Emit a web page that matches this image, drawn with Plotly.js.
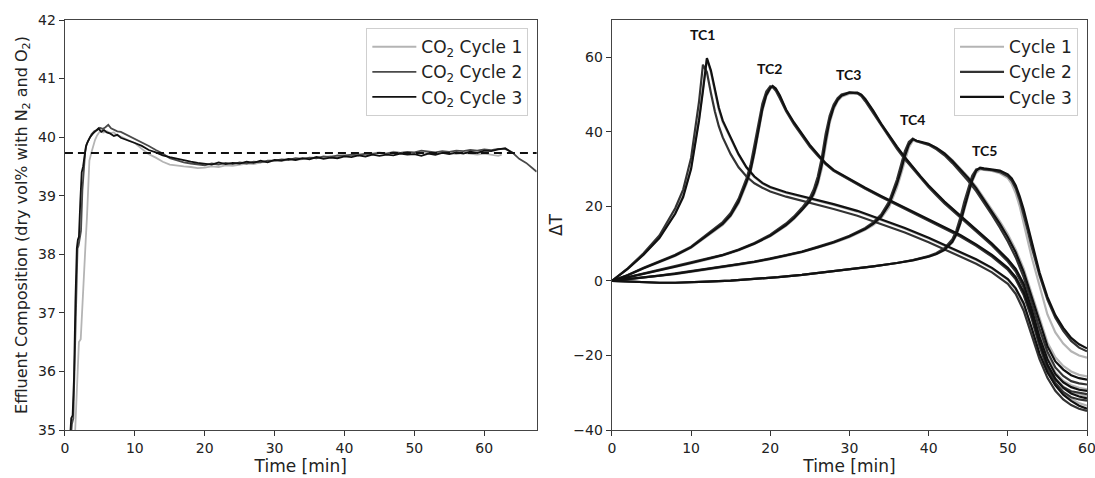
<!DOCTYPE html>
<html>
<head>
<meta charset="utf-8">
<script src="https://cdn.plot.ly/plotly-3.0.1.min.js"></script>
<style>html,body{margin:0;padding:0;background:#fff;}#chart{width:1095px;height:478px;}</style>
</head>
<body>
<div id="chart"></div>
<script>
// ---------------- Left panel: CO2 effluent composition ----------------
const leftSeriesNames = ['CO<sub>2</sub> Cycle 1', 'CO<sub>2</sub> Cycle 2', 'CO<sub>2</sub> Cycle 3'];
const refComposition = 39.73;

const tL1 = [1.4, 1.6, 1.8, 2.0, 2.26, 2.5, 2.8, 3.0, 3.16, 3.35, 3.5, 3.75, 4.0, 4.3, 4.6, 5.0, 5.5, 6.0, 6.5, 7.0, 7.5,
  8, 9, 10, 11, 12, 13, 14, 15, 16, 17, 18, 19, 20, 21, 22, 23, 24, 25, 26, 27, 28, 29, 30, 31, 32, 33, 34, 35,
  36, 37, 38, 39, 40, 41, 42, 43, 44, 45, 46, 47, 48, 49, 50, 51, 52, 53, 54, 55, 56, 57, 58, 59, 60, 61, 62, 62.5];
const vL1 = [34.8, 35.3, 35.8, 36.5, 36.55, 37.2, 37.8, 38.3, 38.65, 39.2, 39.6, 39.72, 39.84, 39.95, 40.03, 40.1, 40.08, 40.1, 40.07, 40.08, 40.03,
  40.01, 39.95, 39.9, 39.8, 39.71, 39.65, 39.58, 39.53, 39.51, 39.5, 39.49, 39.47, 39.48, 39.5, 39.49, 39.52, 39.51, 39.53, 39.55, 39.54, 39.57, 39.58, 39.6, 39.59, 39.62, 39.61, 39.63, 39.64,
  39.66, 39.65, 39.68, 39.67, 39.7, 39.69, 39.72, 39.71, 39.73, 39.74, 39.72, 39.75, 39.73, 39.74, 39.72, 39.74, 39.73, 39.72, 39.74, 39.72, 39.71, 39.73, 39.72, 39.7, 39.72, 39.7, 39.68, 39.7];

const tL2 = [0.8, 1.0, 1.2, 1.4, 1.6, 1.8, 1.95, 2.1, 2.3, 2.5, 2.7, 2.9, 3.1, 3.4, 3.8, 4.2, 4.6, 5.0, 5.4, 5.8, 6.2, 6.6, 7.0, 7.5,
  8, 9, 10, 11, 12, 13, 14, 15, 16, 17, 18, 19, 20, 21, 22, 23, 24, 25, 26, 27, 28, 29, 30, 31, 32, 33, 34, 35, 36, 37,
  38, 39, 40, 41, 42, 43, 44, 45, 46, 47, 48, 49, 50, 51, 52, 53, 54, 55, 56, 57, 58, 59, 60, 61, 62, 63, 64, 65, 66, 67, 67.5];
const vL2 = [34.8, 35.1, 35.2, 36.3, 37.5, 38.1, 38.15, 38.3, 38.4, 39.1, 39.5, 39.75, 39.88, 39.96, 40.05, 40.1, 40.12, 40.16, 40.14, 40.17, 40.21, 40.15, 40.13, 40.1,
  40.09, 40.03, 39.98, 39.92, 39.85, 39.78, 39.72, 39.64, 39.6, 39.57, 39.55, 39.53, 39.52, 39.55, 39.53, 39.56, 39.54, 39.57, 39.55, 39.58, 39.57, 39.6, 39.6, 39.62, 39.61, 39.64, 39.63, 39.65, 39.64, 39.67,
  39.66, 39.69, 39.68, 39.7, 39.69, 39.72, 39.71, 39.73, 39.72, 39.74, 39.73, 39.75, 39.74, 39.77, 39.75, 39.74, 39.76, 39.75, 39.77, 39.76, 39.78, 39.77, 39.79, 39.78, 39.8, 39.8, 39.74, 39.63, 39.56, 39.47, 39.41];

const tL3 = [0.7, 0.9, 1.1, 1.3, 1.5, 1.7, 1.85, 2.0, 2.2, 2.4, 2.6, 2.8, 3.0, 3.3, 3.6, 4.0, 4.4, 4.8, 5.2, 5.6, 6.0, 6.5, 7.0, 7.5,
  8, 9, 10, 11, 12, 13, 14, 15, 16, 17, 18, 19, 20, 21, 22, 23, 24, 25, 26, 27, 28, 29, 30, 31, 32, 33, 34, 35,
  36, 37, 38, 39, 40, 41, 42, 43, 44, 45, 46, 47, 48, 49, 50, 51, 52, 53, 54, 55, 56, 57, 58, 59, 60, 61, 62, 63, 63.5, 64];
const vL3 = [34.8, 35.2, 35.25, 35.9, 37.2, 38.1, 38.25, 38.3, 38.9, 39.4, 39.5, 39.72, 39.84, 39.93, 40.0, 40.06, 40.1, 40.15, 40.09, 40.12, 40.08, 40.06, 40.02, 40.04,
  39.99, 39.95, 39.9, 39.85, 39.78, 39.74, 39.69, 39.66, 39.63, 39.6, 39.58, 39.56, 39.55, 39.53, 39.57, 39.54, 39.56, 39.55, 39.58, 39.56, 39.6, 39.57, 39.61, 39.6, 39.63, 39.61, 39.64, 39.62,
  39.66, 39.63, 39.65, 39.64, 39.67, 39.66, 39.69, 39.67, 39.7, 39.68, 39.7, 39.69, 39.72, 39.7, 39.71, 39.68, 39.72, 39.7, 39.73, 39.71, 39.74, 39.72, 39.75, 39.73, 39.77, 39.76, 39.79, 39.81, 39.77, 39.73];

// ---------------- Right panel: thermocouple temperature rise ----------------
const rightSeriesNames = ['Cycle 1', 'Cycle 2', 'Cycle 3'];
const tcLabels = ['TC1', 'TC2', 'TC3', 'TC4', 'TC5'];

const tTC1 = [0, 2, 4, 6, 8, 9, 10, 10.5, 11, 11.5, 12, 12.5, 13, 13.5, 14, 15, 16, 17, 18, 19, 20, 22, 25, 28, 31, 34, 37, 40, 43, 46, 48, 50, 51, 52, 53, 54, 55, 56, 57, 58, 59, 60];
const tc1c1 = [0, 3.3, 7.1, 11.7, 18.3, 23.0, 30.5, 36.5, 43.5, 51.5, 59.5, 56.0, 50.5, 46.0, 42.6, 38.2, 33.8, 30.3, 27.8, 26.1, 25.0, 23.6, 22.1, 20.4, 18.6, 16.4, 14.0, 11.4, 8.6, 5.6, 3.3, 0.3, -2.3, -6.5, -13.0, -19.8, -24.6, -27.8, -30.0, -31.6, -32.8, -33.5];
const tc1c2 = [0, 3.4, 7.4, 12.2, 19.5, 24.5, 33.0, 40.0, 48.0, 58.0, 56.0, 50.5, 45.5, 41.5, 38.5, 34.0, 30.5, 28.0, 26.2, 25.0, 24.0, 22.6, 21.0, 19.3, 17.5, 15.3, 13.0, 10.4, 7.6, 4.6, 2.3, -0.8, -3.5, -8.0, -14.5, -21.0, -26.0, -29.5, -31.8, -33.3, -34.3, -34.9];
const tc1c3 = [0, 3.2, 7.0, 11.5, 18.0, 22.5, 30.0, 36.0, 43.0, 51.0, 59.8, 56.5, 51.0, 46.5, 43.0, 38.5, 34.0, 30.5, 28.0, 26.3, 25.2, 23.8, 22.3, 20.6, 18.8, 16.6, 14.2, 11.6, 8.8, 5.8, 3.5, 0.5, -2.0, -6.0, -12.5, -19.5, -24.5, -28.0, -30.5, -32.2, -33.5, -34.3];

const tTC2 = [0, 2, 4, 6, 8, 10, 12, 14, 15, 16, 17, 17.5, 18, 18.5, 19, 19.5, 20, 20.3, 20.7, 21.2, 22, 23, 24, 25, 26, 27, 28, 30, 32, 34, 36, 38, 40, 42, 44, 46, 48, 50, 51, 52, 53, 54, 55, 56, 57, 58, 59, 60];
const tc2c1 = [0, 1.5, 3.3, 5.0, 6.7, 8.9, 12.0, 15.0, 17.3, 20.8, 26.0, 29.0, 34.0, 40.0, 45.5, 49.5, 51.5, 52.0, 51.5, 49.6, 45.8, 42.3, 39.3, 36.3, 33.8, 31.4, 29.6, 27.1, 24.8, 22.6, 20.5, 18.4, 16.4, 14.4, 12.1, 9.6, 6.8, 3.2, 0.6, -3.5, -9.8, -17.0, -22.5, -26.0, -28.3, -29.8, -30.5, -31.0];
const tc2c2 = [0, 1.6, 3.5, 5.2, 7.0, 9.2, 12.5, 15.8, 18.2, 22.0, 27.5, 31.0, 36.5, 42.5, 47.5, 50.8, 52.2, 52.0, 51.0, 49.0, 45.5, 42.0, 39.0, 36.0, 33.6, 31.3, 29.5, 27.0, 24.7, 22.5, 20.4, 18.3, 16.3, 14.2, 11.9, 9.4, 6.5, 3.0, 0.4, -3.8, -10.0, -17.5, -23.5, -27.3, -29.8, -31.2, -31.8, -32.1];
const tc2c3 = [0, 1.5, 3.4, 5.1, 6.8, 9.0, 12.2, 15.3, 17.6, 21.2, 26.5, 29.5, 34.5, 40.5, 46.0, 49.8, 51.7, 52.3, 51.6, 49.8, 46.0, 42.5, 39.5, 36.5, 34.0, 31.6, 29.8, 27.3, 25.0, 22.8, 20.7, 18.6, 16.6, 14.6, 12.3, 9.8, 7.0, 3.5, 1.0, -3.0, -9.0, -16.5, -22.5, -26.3, -28.7, -30.2, -31.0, -31.5];

const tTC3 = [0, 2, 4, 6, 8, 10, 12, 14, 16, 18, 20, 22, 23, 24, 25, 25.5, 26, 26.5, 27, 27.5, 28, 28.5, 29, 30, 31, 31.5, 32, 33, 34, 35, 36, 37, 38, 39, 40, 41, 42, 44, 46, 48, 50, 51, 52, 53, 54, 55, 56, 57, 58, 59, 60];
const tc3c1 = [0, 0.9, 1.8, 2.8, 3.7, 4.7, 5.7, 6.8, 8.2, 9.9, 12.0, 14.8, 16.6, 18.8, 21.2, 23.0, 25.8, 30.0, 36.5, 42.3, 46.0, 48.2, 49.4, 50.2, 50.3, 49.9, 48.7, 45.6, 42.1, 38.9, 35.9, 33.1, 30.4, 27.9, 25.5, 23.3, 21.2, 17.4, 13.6, 9.9, 5.7, 3.1, -0.6, -7.0, -14.2, -20.2, -24.5, -26.8, -28.0, -28.7, -29.1];
const tc3c2 = [0, 1.0, 2.0, 3.0, 3.9, 4.9, 5.9, 7.0, 8.4, 10.2, 12.4, 15.4, 17.3, 19.6, 22.3, 24.6, 28.0, 33.0, 39.5, 44.3, 47.3, 49.0, 50.0, 50.6, 50.3, 49.6, 48.2, 45.0, 41.6, 38.4, 35.4, 32.6, 30.0, 27.5, 25.1, 22.9, 20.8, 17.0, 13.2, 9.5, 5.2, 2.5, -1.8, -8.8, -16.5, -22.5, -26.3, -28.5, -29.6, -30.1, -30.4];
const tc3c3 = [0, 0.9, 1.9, 2.9, 3.8, 4.8, 5.8, 6.9, 8.3, 10.0, 12.1, 15.0, 16.8, 19.0, 21.5, 23.5, 26.5, 31.0, 37.5, 43.0, 46.5, 48.5, 49.7, 50.5, 50.5, 50.0, 48.8, 45.7, 42.2, 39.0, 36.0, 33.2, 30.5, 28.0, 25.6, 23.4, 21.3, 17.5, 13.7, 10.0, 5.8, 3.2, -0.8, -7.5, -15.0, -21.0, -25.0, -27.2, -28.5, -29.2, -29.5];

const tTC4 = [0, 2, 4, 6, 8, 10, 12, 14, 16, 18, 20, 22, 24, 26, 28, 30, 32, 33, 34, 35, 35.5, 36, 36.5, 37, 37.5, 38, 38.5, 39, 40, 41, 42, 43, 44, 45, 46, 47, 48, 49, 50, 51, 52, 53, 54, 55, 56, 57, 58, 59, 60];
const tc4c1 = [0, 0.4, 0.8, 1.3, 1.8, 2.4, 3.0, 3.6, 4.3, 5.0, 5.8, 6.7, 7.7, 8.9, 10.2, 11.7, 13.7, 15.0, 16.8, 19.8, 22.2, 25.0, 28.5, 32.5, 35.8, 37.6, 37.4, 37.1, 36.7, 35.7, 34.3, 32.4, 30.2, 27.9, 25.3, 22.3, 19.2, 16.0, 12.5, 8.4, 3.3, -3.2, -10.3, -16.5, -20.5, -22.8, -24.3, -25.2, -25.6];
const tc4c2 = [0, 0.4, 0.9, 1.4, 2.0, 2.6, 3.2, 3.8, 4.5, 5.2, 6.0, 6.9, 7.9, 9.1, 10.5, 12.1, 14.2, 15.7, 17.8, 21.3, 24.0, 27.2, 31.0, 34.8, 37.3, 38.2, 37.5, 37.1, 36.5, 35.3, 33.7, 31.6, 29.3, 26.8, 24.1, 21.0, 17.7, 14.3, 10.6, 6.3, 1.0, -5.7, -12.8, -19.0, -23.2, -25.5, -26.9, -27.5, -27.8];
const tc4c3 = [0, 0.4, 0.9, 1.4, 1.9, 2.5, 3.1, 3.7, 4.4, 5.1, 5.9, 6.8, 7.8, 9.0, 10.3, 11.9, 13.9, 15.3, 17.2, 20.5, 23.0, 26.0, 29.5, 33.5, 36.5, 38.0, 37.6, 37.3, 36.8, 35.7, 34.2, 32.2, 30.0, 27.6, 24.9, 21.8, 18.6, 15.3, 11.7, 7.6, 2.4, -4.2, -11.3, -17.5, -21.6, -23.8, -25.3, -26.1, -26.5];

const tTC5 = [0, 2, 4, 6, 8, 10, 12, 15, 18, 21, 24, 27, 30, 33, 36, 38, 40, 41, 42, 43, 43.5, 44, 44.5, 45, 45.5, 46, 46.5, 47, 48, 49, 50, 50.5, 51, 51.5, 52, 52.5, 53, 53.5, 54, 55, 56, 57, 58, 59, 60];
const tc5c1 = [0, -0.2, -0.4, -0.5, -0.5, -0.4, -0.2, 0.1, 0.5, 1.0, 1.6, 2.3, 3.1, 3.9, 4.8, 5.5, 6.5, 7.2, 8.2, 10.3, 12.2, 15.2, 19.0, 23.0, 26.6, 29.0, 29.9, 29.8, 29.5, 28.9, 27.6, 26.0, 23.5, 20.0, 15.8, 11.0, 6.5, 2.5, -1.5, -9.0, -13.8, -16.8, -18.9, -20.0, -20.6];
const tc5c2 = [0, -0.2, -0.4, -0.5, -0.5, -0.4, -0.2, 0.1, 0.5, 1.0, 1.6, 2.3, 3.1, 3.9, 4.8, 5.6, 6.7, 7.5, 8.8, 11.2, 13.5, 17.0, 21.2, 25.0, 28.2, 29.9, 30.2, 29.9, 29.7, 29.2, 28.1, 26.9, 24.8, 21.7, 18.0, 13.6, 9.2, 5.2, 1.5, -5.0, -9.9, -13.4, -16.1, -17.9, -18.9];
const tc5c3 = [0, -0.2, -0.4, -0.5, -0.5, -0.4, -0.2, 0.1, 0.5, 1.0, 1.6, 2.3, 3.1, 3.9, 4.8, 5.5, 6.5, 7.2, 8.3, 10.5, 12.5, 15.5, 19.5, 23.5, 27.0, 29.5, 30.4, 30.2, 30.0, 29.6, 28.6, 27.5, 25.6, 22.7, 19.2, 14.8, 10.3, 6.2, 2.3, -4.3, -9.2, -12.6, -15.3, -17.0, -18.1];

// ---------------- styling (not data) ----------------
const cycleColors = ['#b4b4b4', '#4a4a4a', '#111111'];
const rightColors = ['#b4b4b4', '#333333', '#111111'];
const labelPos = {x: [11.5, 19.9, 29.9, 38.0, 47.0], y: [66, 57, 55.5, 43.3, 35.1]};
const FONT = 'DejaVu Sans, sans-serif';

const traces = [];
const leftT = [tL1, tL2, tL3];
const leftV = [vL1, vL2, vL3];
for (let c = 0; c < 3; c++) {
  traces.push({
    type: 'scatter', mode: 'lines', x: leftT[c], y: leftV[c], name: leftSeriesNames[c],
    xaxis: 'x', yaxis: 'y', legend: 'legend', legendgroup: 'l' + c,
    line: {color: cycleColors[c], width: 1.8}
  });
}

const tcTimes = [tTC1, tTC2, tTC3, tTC4, tTC5];
const tcVals = [
  [tc1c1, tc1c2, tc1c3],
  [tc2c1, tc2c2, tc2c3],
  [tc3c1, tc3c2, tc3c3],
  [tc4c1, tc4c2, tc4c3],
  [tc5c1, tc5c2, tc5c3]
];
for (let c = 0; c < 3; c++) {
  for (let k = 0; k < tcTimes.length; k++) {
    traces.push({
      type: 'scatter', mode: 'lines', x: tcTimes[k], y: tcVals[k][c], name: rightSeriesNames[c],
      xaxis: 'x2', yaxis: 'y2', legend: 'legend2', legendgroup: 'r' + c, showlegend: k === 0,
      line: {color: rightColors[c], width: 2.2}
    });
  }
}

const axisCommon = {
  showgrid: false, zeroline: false, showline: true, linecolor: '#444', linewidth: 1.2, mirror: true,
  ticks: 'outside', ticklen: 5, tickwidth: 1, tickcolor: '#333',
  tickfont: {family: FONT, size: 14, color: '#222'}
};

const annotations = tcLabels.map((t, i) => ({
  xref: 'x2', yref: 'y2', x: labelPos.x[i], y: labelPos.y[i], text: '<b>' + t + '</b>', showarrow: false,
  font: {family: 'Lato, Open Sans, sans-serif', size: 14, color: '#111'}
}));

const legendCommon = {
  xanchor: 'right', yanchor: 'top',
  bgcolor: 'rgba(255,255,255,0.9)', bordercolor: '#cfcfcf', borderwidth: 1,
  font: {family: FONT, size: 17, color: '#222'}, tracegroupgap: 0, itemwidth: 44
};

const layout = {
  width: 1095, height: 478,
  paper_bgcolor: '#fff', plot_bgcolor: '#fff',
  margin: {l: 0, r: 0, t: 20, b: 48},
  font: {family: FONT, color: '#222'},
  xaxis: Object.assign({}, axisCommon, {
    domain: [0.0593, 0.4901], anchor: 'y', range: [0, 67.5], tick0: 0, dtick: 10,
    title: {text: 'Time [min]', font: {family: FONT, size: 17, color: '#222'}, standoff: 4}
  }),
  yaxis: Object.assign({}, axisCommon, {
    domain: [0, 1], anchor: 'x', range: [35, 42], tick0: 35, dtick: 1,
    title: {text: 'Effluent Composition (dry vol% with N<sub>2</sub> and O<sub>2</sub>)', font: {family: FONT, size: 16, color: '#222'}, standoff: 6}
  }),
  xaxis2: Object.assign({}, axisCommon, {
    domain: [0.5588, 0.9927], anchor: 'y2', range: [0, 60], tick0: 0, dtick: 10, ticklabeloverflow: 'allow',
    title: {text: 'Time [min]', font: {family: FONT, size: 17, color: '#222'}, standoff: 4}
  }),
  yaxis2: Object.assign({}, axisCommon, {
    domain: [0, 1], anchor: 'x2', range: [-40, 70], tickvals: [-40, -20, 0, 20, 40, 60],
    title: {text: 'ΔT', font: {family: FONT, size: 17, color: '#222'}, standoff: 6}
  }),
  shapes: [{
    type: 'line', xref: 'x domain', yref: 'y', x0: 0, x1: 1, y0: refComposition, y1: refComposition,
    line: {color: '#111', width: 2, dash: '8px,5px'}
  }],
  annotations: annotations,
  legend: Object.assign({}, legendCommon, {x: 0.4825, y: 0.98}),
  legend2: Object.assign({}, legendCommon, {x: 0.9845, y: 0.98}),
  showlegend: true
};

Plotly.newPlot('chart', traces, layout, {displayModeBar: false, staticPlot: true});
</script>
</body>
</html>
